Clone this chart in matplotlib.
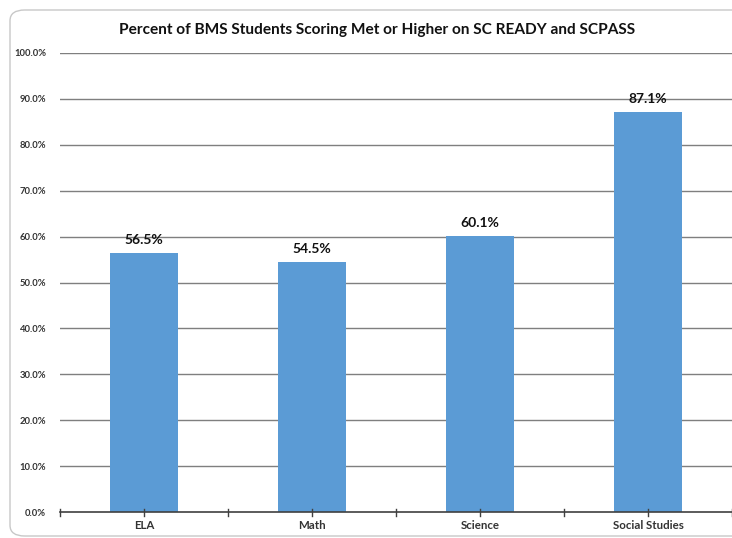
import matplotlib
matplotlib.use("Agg")
import matplotlib.pyplot as plt
from matplotlib.patches import FancyBboxPatch
import numpy as np

categories = ["ELA", "Math", "Science", "Social Studies"]
values = [56.5, 54.5, 60.1, 87.1]
title = "Percent of BMS Students Scoring Met or Higher on SC READY and SCPASS"

plt.rcParams['font.family'] = ['Lato', 'DejaVu Sans']

W, H = 732, 538
fig = plt.figure(figsize=(W/100, H/100), dpi=100)

# rounded outer frame
frame = FancyBboxPatch((10/W, 2/H), 740/W, (H-12)/H,
                       boxstyle="round,pad=0,rounding_size=0.02",
                       transform=fig.transFigure, fill=False,
                       edgecolor="#c8c8c8", linewidth=1.0, zorder=0)
fig.patches.append(frame)

ax = fig.add_axes([60/W, 26/H, 672/W, 459/H])
x = np.arange(len(categories))
ax.bar(x, values, width=0.4, color="#5b9bd5", zorder=3)
ax.set_xlim(-0.5, len(categories) - 0.5)
ax.set_ylim(0, 100)

yt = np.arange(0, 101, 10)
ax.set_yticks(yt)
ax.set_yticklabels([f"{v:.1f}%" for v in yt], fontsize=6.8, fontweight="bold", color="#333333")
ax.tick_params(axis="y", length=0, pad=10)
for v in yt[1:]:
    ax.axhline(v, color="#7f7f7f", linewidth=1.0, zorder=1)

ax.set_xticks(x)
ax.set_xticklabels(categories, fontsize=8.3, fontweight="bold", color="#333333")
ax.tick_params(axis="x", length=0, pad=6)
# tick marks crossing the axis at centers and boundaries
tick_pos = list(x) + list(np.arange(-0.5, len(categories), 1.0))
for t in tick_pos:
    ax.plot([t, t], [-0.9, 0.7], color="#404040", linewidth=1.0, clip_on=False, zorder=4)

for s in ["top", "right", "left"]:
    ax.spines[s].set_visible(False)
ax.spines["bottom"].set_color("#404040")
ax.spines["bottom"].set_linewidth(1.2)
ax.spines["bottom"].set_zorder(4)

for xi, v in zip(x, values):
    ax.text(xi, v + 1.5, f"{v:.1f}%", ha="center", va="bottom", fontsize=10,
            fontweight="bold", color="#111111", zorder=5)

fig.text(377/W, 1 - 30/H, title, ha="center", va="center", fontsize=11.1,
         fontweight="bold", color="#111111")

fig.savefig("out.png", dpi=100)
